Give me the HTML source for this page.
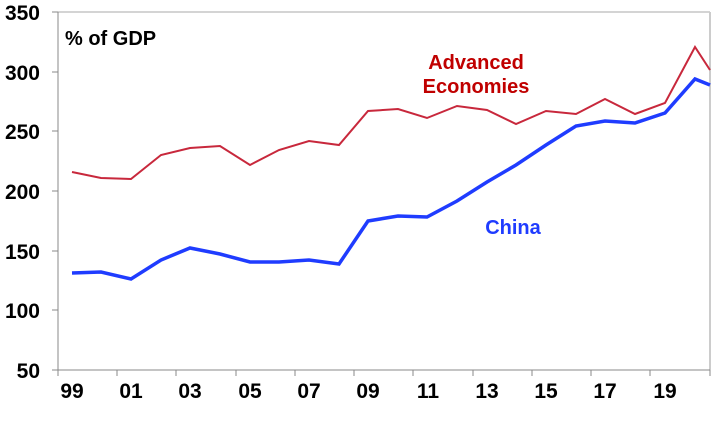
<!DOCTYPE html>
<html><head><style>body{margin:0;background:#fff}</style></head><body>
<svg width="725" height="416" xmlns="http://www.w3.org/2000/svg" font-family="Liberation Sans, Arial, sans-serif" font-weight="bold">
<rect width="725" height="416" fill="#fff"/>
<line x1="58" y1="12" x2="710" y2="12" stroke="#aaa" stroke-width="1"/>
<line x1="710" y1="12" x2="710" y2="370" stroke="#ccc" stroke-width="2"/>
<line x1="58" y1="12" x2="58" y2="370" stroke="#888" stroke-width="1"/>
<line x1="58" y1="370" x2="710" y2="370" stroke="#888" stroke-width="1"/>
<g stroke="#888" stroke-width="1">
<line x1="52" y1="12" x2="58" y2="12"/><line x1="52" y1="72" x2="58" y2="72"/><line x1="52" y1="131" x2="58" y2="131"/><line x1="52" y1="191" x2="58" y2="191"/><line x1="52" y1="251" x2="58" y2="251"/><line x1="52" y1="310" x2="58" y2="310"/><line x1="52" y1="370" x2="58" y2="370"/>
<line x1="58" y1="370" x2="58" y2="376"/><line x1="117" y1="370" x2="117" y2="376"/><line x1="176" y1="370" x2="176" y2="376"/><line x1="236" y1="370" x2="236" y2="376"/><line x1="295" y1="370" x2="295" y2="376"/><line x1="354" y1="370" x2="354" y2="376"/><line x1="413" y1="370" x2="413" y2="376"/><line x1="473" y1="370" x2="473" y2="376"/><line x1="532" y1="370" x2="532" y2="376"/><line x1="591" y1="370" x2="591" y2="376"/><line x1="650" y1="370" x2="650" y2="376"/><line x1="710" y1="370" x2="710" y2="376"/>
</g>
<g font-size="21" text-anchor="end" fill="#000">
<text x="40" y="20">350</text><text x="40" y="80">300</text><text x="40" y="139">250</text><text x="40" y="199">200</text><text x="40" y="259">150</text><text x="40" y="318">100</text><text x="40" y="378">50</text>
</g>
<g font-size="21" text-anchor="middle" fill="#000">
<text x="72" y="398">99</text><text x="131" y="398">01</text><text x="190" y="398">03</text><text x="250" y="398">05</text><text x="309" y="398">07</text><text x="368" y="398">09</text><text x="428" y="398">11</text><text x="487" y="398">13</text><text x="546" y="398">15</text><text x="605" y="398">17</text><text x="665" y="398">19</text>
</g>
<text x="65" y="45" font-size="20" fill="#000">% of GDP</text>
<text x="476" y="69" font-size="20" fill="#c00000" text-anchor="middle">Advanced</text>
<text x="476" y="93" font-size="20" fill="#c00000" text-anchor="middle">Economies</text>
<text x="513" y="234" font-size="20" fill="#1f3cff" text-anchor="middle">China</text>
<polyline fill="none" stroke="#c8283c" stroke-width="2" points="72,172 101,178 131,179 161,155 190,148 220,146 250,165 279,150 309,141 339,145 368,111 398,109 427,118 457,106 487,110 516,124 546,111 576,114 605,99 635,114 665,103 695,47 710,70"/>
<polyline fill="none" stroke="#1f3cff" stroke-width="3.5" points="72,273 101,272 131,279 161,260 190,248 220,254 250,262 279,262 309,260 339,264 368,221 398,216 427,217 457,201 487,182 516,165 546,145 576,126 605,121 635,123 665,113 695,79 710,85"/>
</svg>
</body></html>
